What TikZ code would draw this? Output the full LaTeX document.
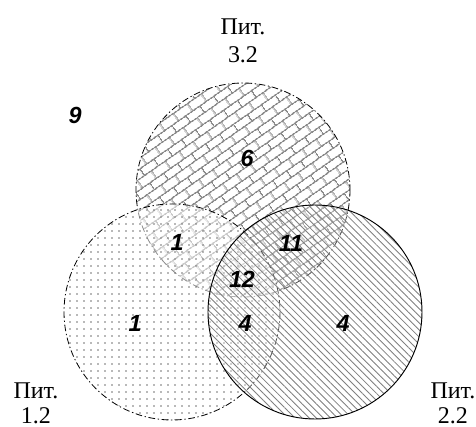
\documentclass[tikz,border=0pt]{standalone}
\usepackage{fontspec}
\setmainfont{Liberation Serif}
\newfontfamily\numfont{Liberation Sans}
\usepackage{tikz}
\usetikzlibrary{patterns,patterns.meta}

\tikzdeclarepattern{
  name=slantbricks, type=uncolored,
  bounding box={(0pt,0pt) and (13pt,13pt)},
  tile size={(13pt,13pt)},
  tile transformation={rotate=35},
  code={
    \pgfsetlinewidth{1.05pt}
    \pgfpathmoveto{\pgfpoint{-0.5pt}{3.25pt}}\pgfpathlineto{\pgfpoint{13.5pt}{3.25pt}}
    \pgfpathmoveto{\pgfpoint{-0.5pt}{9.75pt}}\pgfpathlineto{\pgfpoint{13.5pt}{9.75pt}}
    \pgfpathmoveto{\pgfpoint{3.25pt}{3.25pt}}\pgfpathlineto{\pgfpoint{3.25pt}{9.75pt}}
    \pgfpathmoveto{\pgfpoint{9.75pt}{9.75pt}}\pgfpathlineto{\pgfpoint{9.75pt}{13.5pt}}
    \pgfpathmoveto{\pgfpoint{9.75pt}{-0.5pt}}\pgfpathlineto{\pgfpoint{9.75pt}{3.25pt}}
    \pgfusepath{stroke}
  }
}

\tikzstyle{brickC}=[pattern=slantbricks, pattern color=gray!90, draw=black, line width=0.6pt, dash pattern=on 5pt off 2pt on 1pt off 2pt]
\tikzstyle{dotC}=[pattern={Dots[distance=5.25pt, radius=0.7pt]}, pattern color=gray!90!black, draw=black, line width=0.6pt, dash pattern=on 5pt off 2pt on 1pt off 2pt]
\tikzstyle{lineC}=[pattern={Lines[angle=-45, distance=3.75pt, line width=0.65pt]}, pattern color=gray, draw=black, line width=0.7pt]
\tikzstyle{fadeC}=[fill=white, fill opacity=0.55]
\tikzstyle{numL}=[font=\numfont\bfseries\itshape\fontsize{17.5}{17.5}\selectfont, inner sep=0pt]
\tikzstyle{titleL}=[font=\fontsize{18}{19}\selectfont, align=center, inner sep=0pt]

\begin{document}
\begin{tikzpicture}[x=0.75pt, y=-0.75pt]
    \useasboundingbox (0,0) rectangle (476,427);

    %%%%%  Pit. 3.2  %%%%%
    \draw [brickC] (243,190) circle (107);

    %%%%%  Pit. 1.2  %%%%%
    \fill [fadeC] (172,312) circle (108);
    \draw [dotC]  (172,312) circle (108);

    %%%%%  Pit. 2.2  %%%%%
    \fill [fadeC, fill opacity=0.3] (315,312) circle (107);
    \draw [lineC] (315,312) circle (107);

    %%%%%  Titles  %%%%%
    \node (T32) [titleL, font=\fontsize{18}{21}\selectfont] at (243,41) {Пит.\\3.2};
    \node (T12) [titleL] at (36,403) {Пит.\\1.2};
    \node (T22) [titleL] at (453,403) {Пит.\\2.2};

    %%%%%  Counts  %%%%%
    \node (N9)   [numL] at (75,115)  {9};
    \node (N6)   [numL] at (247,158) {6};
    \node (N13)  [numL] at (177,242) {1};
    \node (N23)  [numL] at (291,243) {11};
    \node (N123) [numL] at (242,279) {12};
    \node (N1)   [numL] at (135,323) {1};
    \node (N12)  [numL] at (245,323) {4};
    \node (N2)   [numL] at (343,323) {4};
\end{tikzpicture}
\end{document}
